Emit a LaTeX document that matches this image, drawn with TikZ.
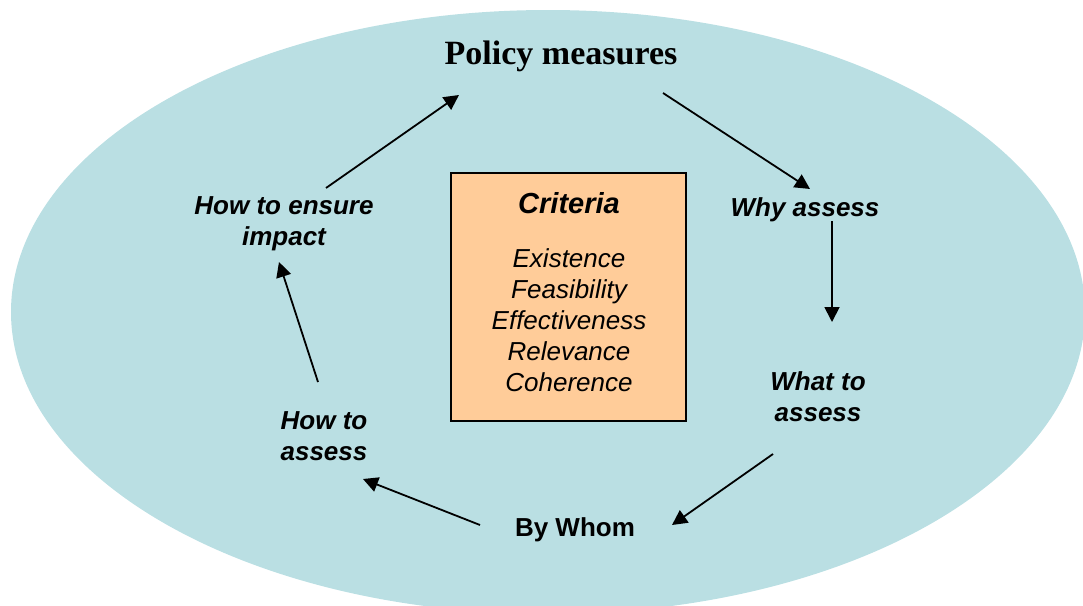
\documentclass[tikz,border=0pt]{standalone}
\usepackage{fontspec}
\setmainfont{Liberation Serif}
\newfontfamily\arial{Liberation Sans}
\usetikzlibrary{arrows.meta,calc,positioning}

\definecolor{bgblue}{RGB}{186,223,227}
\definecolor{peach}{RGB}{255,204,153}

\tikzset{
  stage/.style={font=\arial\fontsize{26}{31}\selectfont\bfseries\itshape, align=center, inner sep=1pt},
  arr/.style={line width=1.8pt, -{Triangle[length=15pt,width=15pt]}}
}

\begin{document}
\begin{tikzpicture}[x=1pt,y=-1pt]
    \useasboundingbox (0,0) rectangle (1083,605);
    \clip (0,0) rectangle (1083,605);
    \fill[bgblue] (548,312) ellipse [x radius=537, y radius=302];

    \node[font=\fontsize{34}{38}\selectfont\bfseries, inner sep=1pt] at (561,56) (pm) {Policy measures};
    \node[stage] at (805,210) (why) {Why assess};
    \node[stage] at (818,397) (what) {What to\\assess};
    \node[stage, font=\arial\fontsize{26}{31}\selectfont\bfseries] at (575,530) (whom) {By Whom};
    \node[stage] at (324,436) (how) {How to\\assess};
    \node[stage] at (284,224) (ensure) {How to ensure\\impact};

    % criteria box
    \node[draw, fill=peach, line width=1.5pt, minimum width=235, minimum height=248] at (568.5,297) (crit) {};
    \node[font=\arial\fontsize{29}{34}\selectfont\bfseries\itshape] at (569,203) (crittitle) {Criteria};
    \node[font=\arial\fontsize{26}{31}\selectfont\itshape, align=center] at (569,320) (critlist)
        {Existence\\Feasibility\\Effectiveness\\Relevance\\Coherence};

    \draw[arr] ($(pm)+(102,37)$) -- ($(why)+(5,-21)$);
    \draw[arr] ($(why)+(27,11)$) -- ($(what)+(14,-75)$);
    \draw[arr] ($(what)+(-45,57)$) -- ($(whom)+(97,-5)$);
    \draw[arr] ($(whom)+(-95,-5)$) -- ($(how)+(39,43)$);
    \draw[arr] ($(how)+(-6,-54)$) -- ($(ensure)+(-5,38)$);
    \draw[arr] ($(ensure)+(42,-36)$) -- ($(pm)+(-102,39)$);
\end{tikzpicture}
\end{document}
